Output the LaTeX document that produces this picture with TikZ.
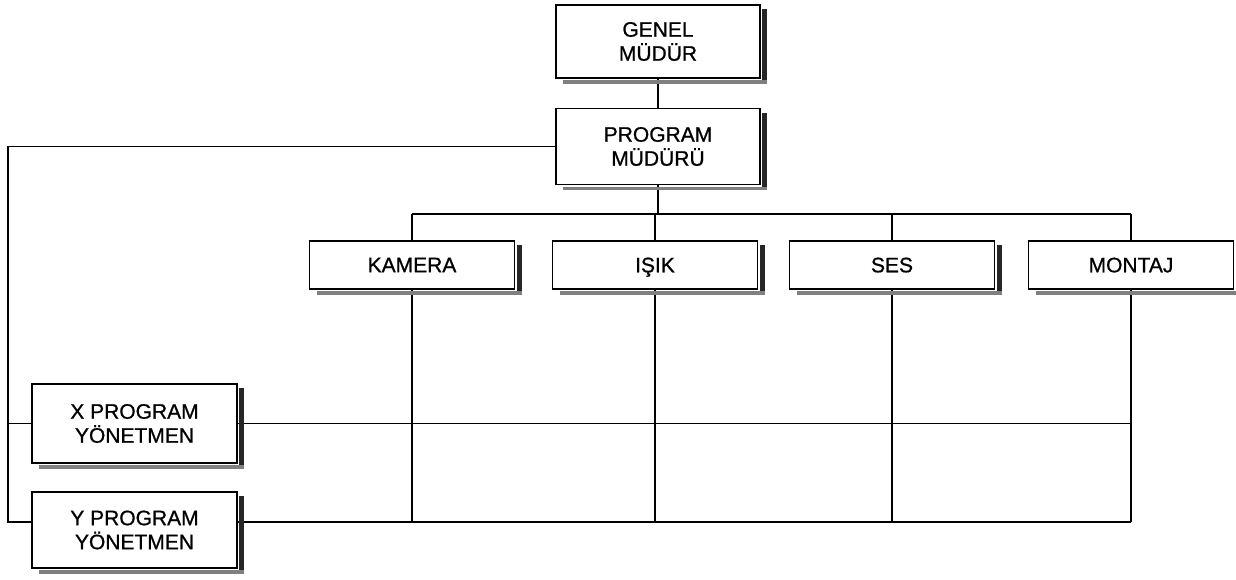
\documentclass[tikz,border=0pt]{standalone}
\usepackage{fontspec}
\setmainfont{Liberation Sans}
\newfontfamily\boxfont{Liberation Sans}[FakeBold=0.8]
\usetikzlibrary{calc}
\newcommand\boxshadow[1]{%
  \fill[black!85] ($(#1.north east)+(1.5,5)$) rectangle ($(#1.south east)+(6.5,4)$);
  \fill[black!50] ($(#1.south west)+(8,1.5)$) rectangle ($(#1.south east)+(6.5,5)$);}
\begin{document}
\begin{tikzpicture}[x=1pt,y=-1pt,
  box/.style={draw, line width=1.8pt, fill=white, align=center, inner sep=0pt,
    font=\boxfont\fontsize{21}{24}\selectfont},
  dept/.style={box, minimum width=205pt, minimum height=48pt, text depth=0pt},
  big/.style={box, minimum width=204pt, minimum height=76pt},
  conn/.style={line width=1.8pt}]
\useasboundingbox[fill=white] (0,0) rectangle (1236,580);

\node[big, minimum height=73pt] (gm) at (658,41.5) {GENEL\\MÜDÜR};
\node[big] (pm) at (658,146.5) {PROGRAM\\MÜDÜRÜ};
\node[dept] (kam) at (412,265) {KAMERA};
\node[dept] (isik) at (655,265) {IŞIK};
\node[dept] (ses) at (892,265) {SES};
\node[dept] (mon) at (1131,265) {MONTAJ};
\node[big, minimum width=205pt, minimum height=79pt] (xp) at (134.5,423.5) {X PROGRAM\\YÖNETMEN};
\node[big, minimum width=205pt, minimum height=76pt] (yp) at (134.5,530) {Y PROGRAM\\YÖNETMEN};

\coordinate (bus) at (412,214);
\coordinate (lc) at (8,0);
\coordinate (yjl) at ($(yp.west)+(0,-8)$);
\coordinate (yjr) at ($(yp.east)+(0,-8)$);

\draw[conn] (gm.south) -- (pm.north);
\draw[conn] (pm.south) -- (pm.south |- bus);
\draw[conn] (kam.north |- bus) -- (mon.north |- bus);
\foreach \n in {kam,isik,ses,mon}{
  \draw[conn] (\n.north) -- (\n.north |- bus);
  \draw[conn] (\n.south) -- (\n.south |- yjr);
}
\draw[conn] (pm.west) -- (pm.west -| lc) -- (yjl -| lc) -- (yjl);
\draw[conn] (xp.west) -- (xp.west -| lc);
\draw[conn] (xp.east) -- (xp.east -| mon.south);
\draw[conn] (yjr) -- (yjr -| mon.south);

\foreach \n in {gm,pm,kam,isik,ses,mon,xp,yp}{\boxshadow{\n}}
\end{tikzpicture}
\end{document}
